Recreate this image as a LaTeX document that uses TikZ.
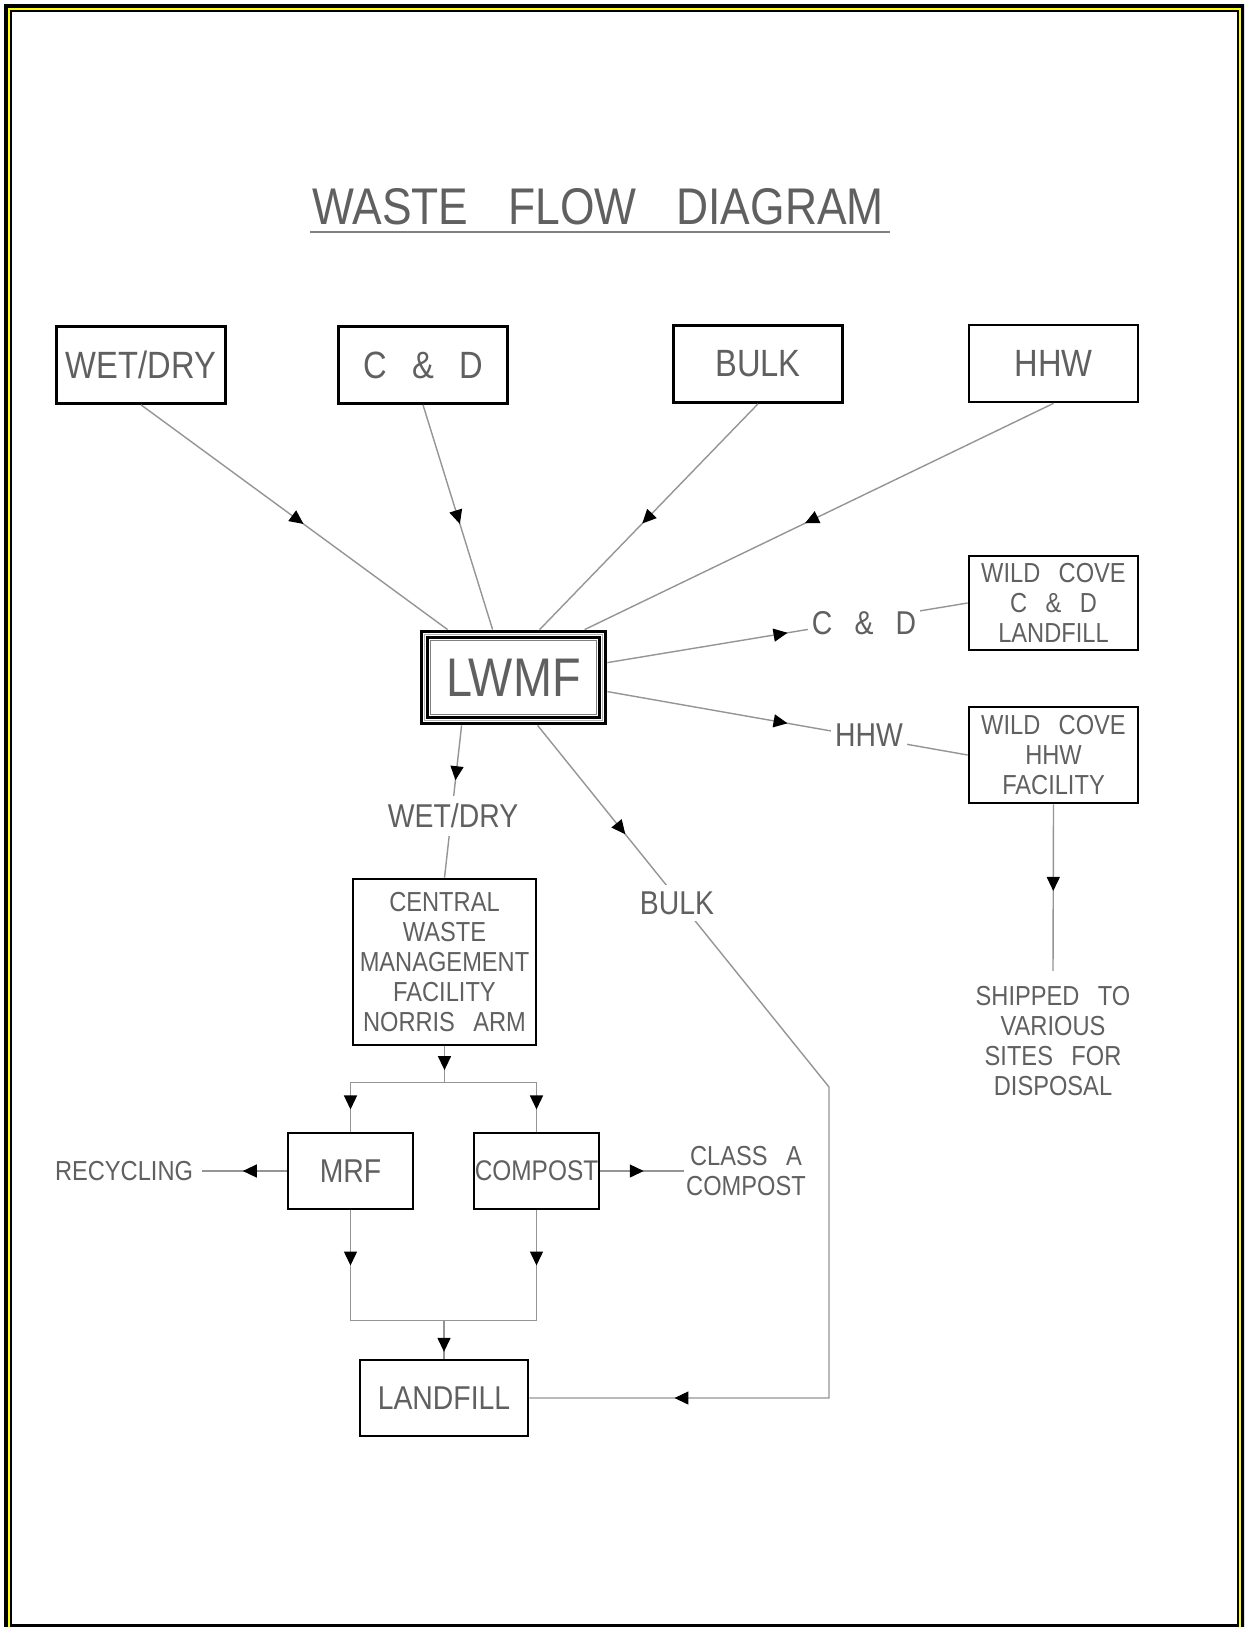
\documentclass[tikz,border=0pt]{standalone}
\usepackage{fontspec}
\setmainfont{Liberation Sans}[FakeStretch=0.86,WordSpace=2.8]
\usetikzlibrary{arrows.meta,decorations.markings,calc}
\definecolor{txt}{HTML}{606060}
\definecolor{ln}{HTML}{959595}
\definecolor{brd}{HTML}{FFFF00}
\tikzset{
  blk/.tip={Triangle[length=7pt,width=6.5pt,color=black]},
  box/.style={draw=black, line width=1.35pt, inner sep=0pt, text=txt, align=center},
  lab/.style={text=txt, inner sep=0pt, align=center},
  conn/.style={draw=ln, line width=0.7pt},
  midarrow/.style={postaction={decorate},decoration={markings,mark=at position #1 with {\arrow{blk}}}},
  ftitle/.style={font=\fontsize{25.8}{30}\selectfont},
  fbig/.style={font=\fontsize{19}{22}\selectfont},
  fhuge/.style={font=\fontsize{27.2}{30}\selectfont},
  flab/.style={font=\fontsize{16.5}{18}\selectfont},
  fsmall/.style={font=\fontsize{13.75}{15}\selectfont},
}
\begin{document}
\begin{tikzpicture}[x=0.5pt,y=-0.5pt]
\useasboundingbox (0,0) rectangle (1244,1627);
\begin{scope}
\clip (0,0) rectangle (1244,1627);
\fill[white] (0,0) rectangle (1244,1627);
\fill[black] (4,4) rectangle (1260,1640);
\fill[brd] (8,8) rectangle (1241.3,1640);
\fill[black] (10,10) rectangle (1239.3,1640);
\fill[white] (12,12) rectangle (1236.7,1624.3);
\end{scope}

% title
\node[lab, ftitle] (title) at (598,206.5) {WASTE\hspace{20pt}FLOW\hspace{20pt}DIAGRAM};
\draw[draw=gray, line width=1pt] ($(title.south west)+(-2,7)$) -- ($(title.south east)+(6,7)$);

% source boxes
\node[box, fbig, minimum width=84.5pt, minimum height=38.5pt] (wd) at (141,365) {WET/DRY};
\node[box, fbig, minimum width=84.5pt, minimum height=38.5pt] (cd) at (423,365) {C \& D};
\node[box, fbig, minimum width=84.5pt, minimum height=38.5pt] (bk) at (758,364) {BULK};
\node[box, fbig, minimum width=84.5pt, minimum height=38.5pt] (hw) at (1053.5,363.5) {HHW};

% LWMF
\node[lab, fhuge, minimum width=93.5pt, minimum height=47.5pt] (lwmf) at (513.5,677.5) {LWMF};
\draw[line width=1.65pt] ($(lwmf.north west)+(1.65,1.65)$) rectangle ($(lwmf.south east)-(1.65,1.65)$);
\draw[line width=0.5pt, draw=gray!60] ($(lwmf.north west)+(4.6,4.6)$) rectangle ($(lwmf.south east)-(4.6,4.6)$);
\draw[line width=1.35pt] ($(lwmf.north west)+(8,8)$) rectangle ($(lwmf.south east)-(8,8)$);
\draw[line width=0.75pt, draw=gray] ($(lwmf.north west)+(11,11)$) rectangle ($(lwmf.south east)-(11,11)$);

% right side
\node[box, fsmall, minimum width=84.5pt, minimum height=47pt] (wcc) at (1053.5,603) {WILD COVE\\C \& D\\LANDFILL};
\node[box, fsmall, minimum width=84.5pt, minimum height=48pt] (wch) at (1053.5,755) {WILD COVE\\HHW\\FACILITY};
\node[lab, fsmall, inner ysep=7.5pt] (ship) at (1053,1041) {SHIPPED TO\\VARIOUS\\SITES FOR\\DISPOSAL};

% central
\node[box, fsmall, minimum width=91.5pt, minimum height=83pt] (cwm) at (444.5,962) {CENTRAL\\WASTE\\MANAGEMENT\\FACILITY\\NORRIS ARM};
\node[box, flab, minimum width=62.5pt, minimum height=38pt] (mrf) at (350.5,1171) {MRF};
\node[box, font=\fontsize{14.2}{16}\selectfont, minimum width=62.5pt, minimum height=38pt] (cmp) at (536.5,1171) {COMPOST};
\node[box, flab, minimum width=84pt, minimum height=38pt] (lf) at (444,1398) {LANDFILL};
\node[lab, fsmall, inner xsep=4.5pt] (rec) at (124,1171) {RECYCLING};
\node[lab, fsmall, inner xsep=1pt] (cla) at (746,1171) {CLASS A\\COMPOST};

% connectors into LWMF
\draw[conn, midarrow=0.53] (wd.south) -- ($(lwmf.north west)+(28,0)$);
\draw[conn, midarrow=0.53] (cd.south) -- ($(lwmf.north west)+(73,0)$);
\draw[conn, midarrow=0.53] (bk.south) -- ($(lwmf.north west)+(120,0)$);
\draw[conn, midarrow=0.53] (hw.south) -- ($(lwmf.north west)+(165,0)$);

% out of LWMF
\draw[conn, midarrow=0.5] ($(lwmf.north east)+(0,33)$) -- (wcc.west);
\draw[conn, midarrow=0.5] ($(lwmf.north east)+(0,62)$) -- (wch.west);
\draw[conn, midarrow=0.52] (wch.south) -- (ship.north);
\draw[conn, midarrow=0.36] ($(lwmf.south west)+(42,0)$) -- (cwm.north);
\coordinate (bc1) at (829,1087);
\coordinate (bc2) at (bc1 |- lf.east);
\draw[conn, postaction={decorate}, decoration={markings,
    mark=at position 0.13 with {\arrow{blk}},
    mark=at position 0.865 with {\arrow{blk}}}]
  ($(lwmf.south west)+(118,0)$) -- (bc1) -- (bc2) -- (lf.east);

% central to MRF / compost
\coordinate (j1) at ($(cwm.south)+(0,36)$);
\coordinate (jl) at (mrf.north |- j1);
\coordinate (jr) at (cmp.north |- j1);
\draw[conn, midarrow=0.66] (cwm.south) -- (j1);
\draw[conn] (jl) -- (jr);
\draw[conn, midarrow=0.55] (jl) -- (mrf.north);
\draw[conn, midarrow=0.55] (jr) -- (cmp.north);
\draw[conn, midarrow=0.52] (mrf.west) -- (rec.east);
\draw[conn, midarrow=0.52] (cmp.east) -- (cla.west);

% to landfill
\coordinate (k1) at ($(lf.north)+(0,-38)$);
\coordinate (kl) at (mrf.south |- k1);
\coordinate (kr) at (cmp.south |- k1);
\draw[conn, midarrow=0.5] (mrf.south) -- (kl);
\draw[conn, midarrow=0.5] (cmp.south) -- (kr);
\draw[conn] (kl) -- (kr);
\draw[conn, midarrow=0.82] (k1) -- (lf.north);

% labels on connectors
\node[lab, flab, fill=white, inner sep=2pt] (cdl) at (864,623) {C \& D};
\node[lab, flab, fill=white, inner sep=2pt] (hhl) at (869,735.5) {HHW};
\node[lab, flab, fill=white, inner xsep=1pt, inner ysep=4pt] (wdl) at (453,816) {WET/DRY};
\node[lab, flab, fill=white, inner sep=3pt] (bkl) at (677,903) {BULK};
\end{tikzpicture}
\end{document}
